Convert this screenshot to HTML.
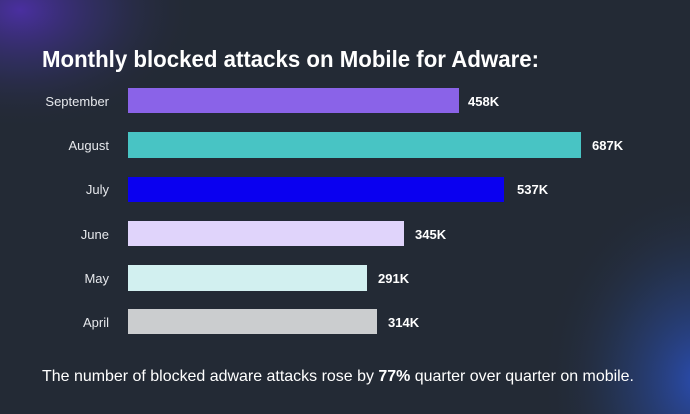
<!DOCTYPE html>
<html><head><meta charset="utf-8"><style>
html,body{margin:0;padding:0;}
body{width:690px;height:414px;overflow:hidden;background:#232a35;font-family:"Liberation Sans",sans-serif;}
</style></head><body>
<svg width="690" height="414" xmlns="http://www.w3.org/2000/svg" style="display:block">
<defs>
<radialGradient id="g1" cx="0" cy="0" r="1" gradientUnits="userSpaceOnUse" gradientTransform="translate(20,10) scale(180,120)">
<stop offset="0" stop-color="#4a2fa0"/><stop offset="0.5" stop-color="#33306a" stop-opacity="0.6"/><stop offset="1" stop-color="#232a35" stop-opacity="0"/></radialGradient>
<radialGradient id="g2" cx="0" cy="0" r="1" gradientUnits="userSpaceOnUse" gradientTransform="translate(700,380) scale(160,200)">
<stop offset="0" stop-color="#2a4cb0"/><stop offset="0.5" stop-color="#27407a" stop-opacity="0.5"/><stop offset="1" stop-color="#232a35" stop-opacity="0"/></radialGradient>
</defs>
<rect width="690" height="414" fill="#232a35"/>
<rect width="690" height="414" fill="url(#g1)"/>
<rect width="690" height="414" fill="url(#g2)"/>
<text x="42" y="67" fill="#fff" font-size="23" font-weight="bold" textLength="497" lengthAdjust="spacingAndGlyphs">Monthly blocked attacks on Mobile for Adware:</text>
<g font-size="13" fill="#e6e8ec" text-anchor="end">
<text x="109" y="106">September</text>
<text x="109" y="150">August</text>
<text x="109" y="194">July</text>
<text x="109" y="239">June</text>
<text x="109" y="283">May</text>
<text x="109" y="327">April</text>
</g>
<rect x="128" y="88" width="331" height="25" fill="#8a63e8"/>
<rect x="128" y="132" width="453" height="26" fill="#48c4c4"/>
<rect x="128" y="177" width="376" height="25" fill="#0a00f0"/>
<rect x="128" y="221" width="276" height="25" fill="#e0d4fb"/>
<rect x="128" y="265" width="239" height="26" fill="#d2f0f0"/>
<rect x="128" y="309" width="249" height="25" fill="#cbcdcf"/>
<g font-size="13" fill="#fff" font-weight="bold">
<text x="468" y="106">458K</text>
<text x="592" y="150">687K</text>
<text x="517" y="194">537K</text>
<text x="415" y="239">345K</text>
<text x="378" y="283">291K</text>
<text x="388" y="327">314K</text>
</g>
<text x="42" y="381" fill="#fff" font-size="16" textLength="592" lengthAdjust="spacingAndGlyphs">The number of blocked adware attacks rose by <tspan font-weight="bold">77%</tspan> quarter over quarter on mobile.</text>
</svg>
</body></html>
